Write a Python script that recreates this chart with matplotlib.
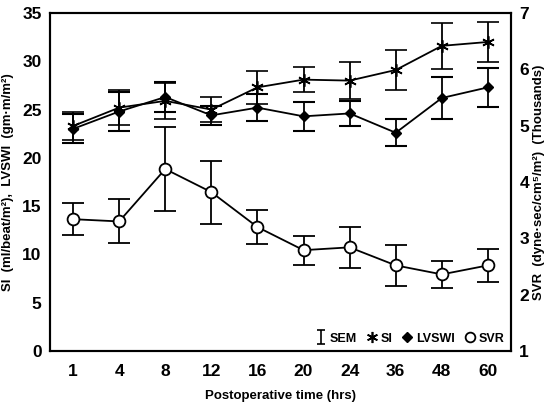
import matplotlib
matplotlib.use("Agg")
import matplotlib.pyplot as plt
from matplotlib.lines import Line2D
from matplotlib.path import Path
import numpy as np

plt.rcParams['font.family'] = ['Liberation Sans', 'DejaVu Sans']
plt.rcParams['font.weight'] = 'bold'

hours = ["1", "4", "8", "12", "16", "20", "24", "36", "48", "60"]
si = [23.3, 25.2, 25.9, 25.0, 27.3, 28.1, 28.0, 29.1, 31.6, 32.0]
si_sem = [1.5, 1.8, 1.9, 1.3, 1.7, 1.3, 1.9, 2.1, 2.4, 2.1]
lvswi = [23.0, 24.8, 26.3, 24.4, 25.2, 24.3, 24.6, 22.6, 26.2, 27.3]
lvswi_sem = [1.5, 2.0, 1.6, 1.0, 1.4, 1.5, 1.3, 1.4, 2.2, 2.0]
svr = [3.34, 3.30, 4.23, 3.82, 3.20, 2.79, 2.84, 2.52, 2.36, 2.52]
svr_sem = [0.28, 0.39, 0.74, 0.56, 0.30, 0.26, 0.36, 0.36, 0.24, 0.29]

x = np.arange(len(hours))

fig = plt.figure(figsize=(5.46, 4.07), dpi=100)
ax = fig.add_axes([50/546, 1-351/407, 461/546, 338/407])
ax2 = ax.twinx()

ekw = dict(color='black', lw=1.3, capsize=8, capthick=1.5, elinewidth=1.3)
ax.errorbar(x, si, yerr=si_sem, marker=(6, 2, 0), ms=9, mew=1.2,
            mfc='black', mec='black', zorder=3, **ekw)
ax.errorbar(x, lvswi, yerr=lvswi_sem, marker='D', ms=5.5,
            mfc='black', mec='black', zorder=3, **ekw)
ax2.errorbar(x, svr, yerr=svr_sem, marker='o', ms=8.5, mew=1.3,
             mfc='white', mec='black', zorder=3, **ekw)

ax.set_xlim(-0.5, 9.5)
ax.set_ylim(0, 35)
ax2.set_ylim(1, 7)
ax.set_xticks(x)
ax.set_xticklabels(hours)
ax.set_yticks(range(0, 36, 5))
ax2.set_yticks(range(1, 8))

for a in (ax, ax2):
    a.tick_params(length=0, labelsize=12.5, pad=6)
    for s in a.spines.values():
        s.set_linewidth(1.5)
ax.tick_params(axis='x', pad=9)
for lab in ax.get_xticklabels() + ax.get_yticklabels() + ax2.get_yticklabels():
    lab.set_fontweight('bold')

ax.set_xlabel("Postoperative time (hrs)", fontsize=9.5, fontweight='bold', labelpad=8)
ax.set_ylabel("SI  (ml/beat/m²),  LVSWI  (gm·m/m²)", fontsize=9.5, fontweight='bold', labelpad=6)
ax2.set_ylabel("SVR  (dyne·sec/cm⁵/m²)  (Thousands)", fontsize=9.5, fontweight='bold',
               rotation=90, labelpad=3)

sem_marker = Path([(-0.6, 1), (0.6, 1), (0, 1), (0, -1), (-0.6, -1), (0.6, -1)],
                  [Path.MOVETO, Path.LINETO, Path.MOVETO, Path.LINETO, Path.MOVETO, Path.LINETO])
handles = [
    Line2D([], [], ls='none', marker=sem_marker, ms=10, mew=1.2, mfc='none', color='black'),
    Line2D([], [], ls='none', marker=(6, 2, 0), ms=8, mew=1.2, color='black'),
    Line2D([], [], ls='none', marker='D', ms=5, color='black'),
    Line2D([], [], ls='none', marker='o', ms=7, mfc='white', mec='black', mew=1.3),
]
leg = ax.legend(handles, ["SEM", "SI", "LVSWI", "SVR"], loc='lower right', ncol=4,
                frameon=False, handlelength=0.9, handletextpad=0.3, columnspacing=0.7,
                borderaxespad=0.1, prop={'size': 9, 'weight': 'bold'})

fig.savefig("out.png", dpi=100)
